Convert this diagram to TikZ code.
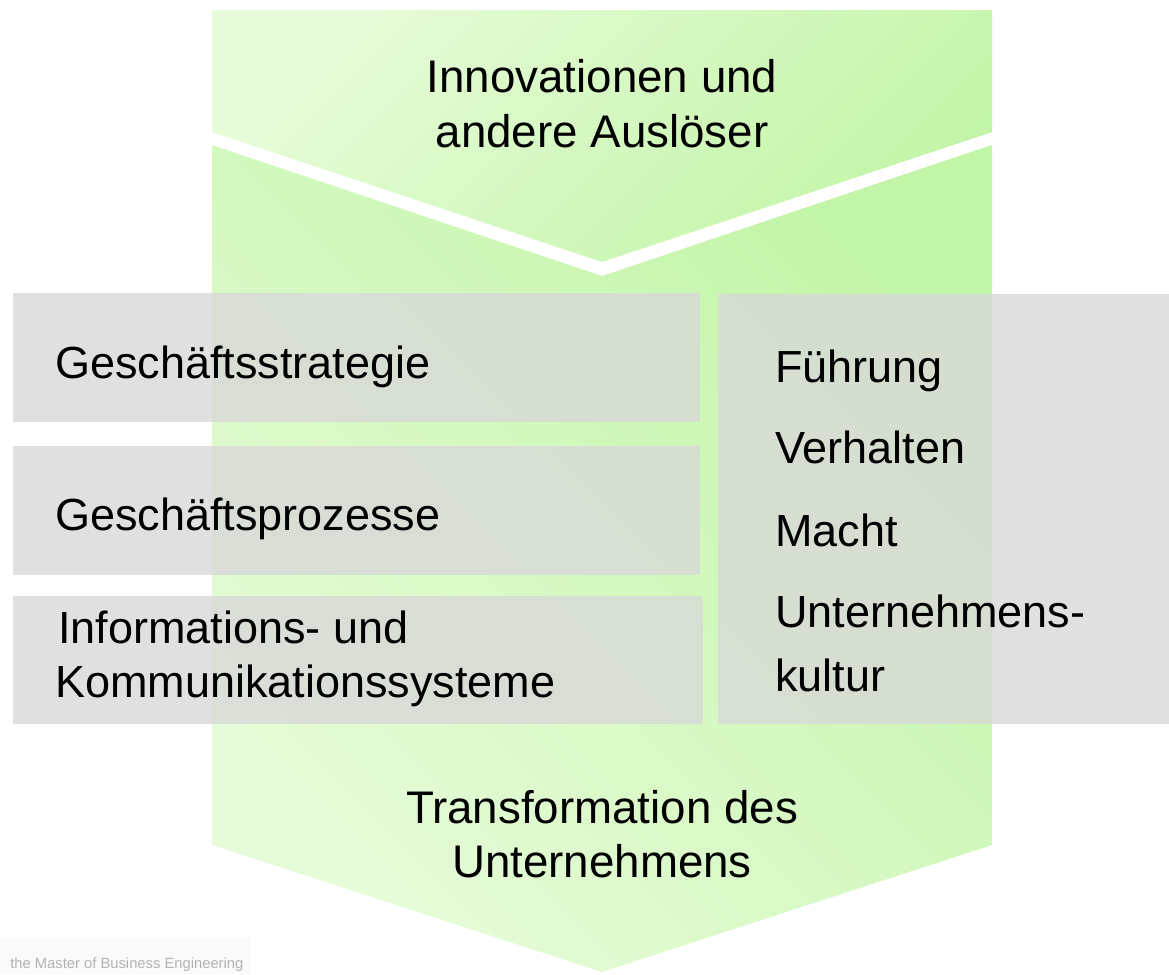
\documentclass[tikz,border=0pt]{standalone}
\usepackage{fontspec}
\setmainfont{Liberation Sans}
\usepackage{xcolor}
\usetikzlibrary{positioning, calc}

\definecolor{arrowlight}{RGB}{230,251,216}
\definecolor{arrowdark}{RGB}{195,245,168}
\definecolor{boxgray}{RGB}{216,216,216}
\definecolor{footgray}{RGB}{250,250,250}

\begin{document}
\begin{tikzpicture}[x=0.025cm, y=-0.025cm,
		graybox/.style={fill=boxgray, fill opacity=0.8, draw=none},
		boxtext/.style={font=\fontsize{32}{38}\selectfont, anchor=base west, inner sep=0pt},
		arrowtext/.style={font=\fontsize{32.5}{38}\selectfont, anchor=base, inner sep=0pt}]
		\useasboundingbox (0,0) rectangle (1169,974);
		
		% Upper chevron (trigger)
		\shade[top color=arrowlight, bottom color=arrowdark, shading angle=45]
		(212,10) -- (992,10) -- (992,132) -- (602,262) -- (212,132) -- cycle;
		
		% Lower arrow (transformation)
		\shade[top color=arrowlight, bottom color=arrowdark, shading angle=135]
		(212,145) -- (602,276) -- (992,145) -- (992,845) -- (602,972) -- (212,845) -- cycle;
		
		% Gray layers
		\fill[graybox] (13,293) rectangle (700,422);
		\fill[graybox] (13,446) rectangle (700,575);
		\fill[graybox] (13,596) rectangle (703,724);
		\fill[graybox] (718,294) rectangle (1169,724);
		
		% Footer strip
		\fill[footgray] (0,938) rectangle (250,974);
		\node[anchor=base west, inner sep=0pt, text=black!30, font=\fontsize{10.5}{13}\selectfont]
		(footer) at (10,968) {the Master of Business Engineering};
		
		% Arrow labels
		\node[arrowtext] (trig1) at (602,92) {Innovationen und};
		\node[arrowtext] (trig2) at (602,147) {andere Auslöser};
		\node[arrowtext] (trans1) at (602,823) {Transformation des};
		\node[arrowtext] (trans2) at (602,877) {Unternehmens};
		
		% Left layers
		\node[boxtext] (strat) at (55,378) {Geschäftsstrategie};
		\node[boxtext] (proz) at (55,530) {Geschäftsprozesse};
		\node[boxtext] (ikt1) at (58,643) {Informations- und};
		\node[boxtext] (ikt2) at (55,697) {Kommunikationssysteme};
		
		% Right column
		\node[boxtext] (fuehr) at (775,382) {Führung};
		\node[boxtext] (verh) at (775,463) {Verhalten};
		\node[boxtext] (macht) at (775,546) {Macht};
		\node[boxtext] (kult1) at (775,627) {Unternehmens-};
		\node[boxtext] (kult2) at (775,691) {kultur};
	\end{tikzpicture}
\end{document}
